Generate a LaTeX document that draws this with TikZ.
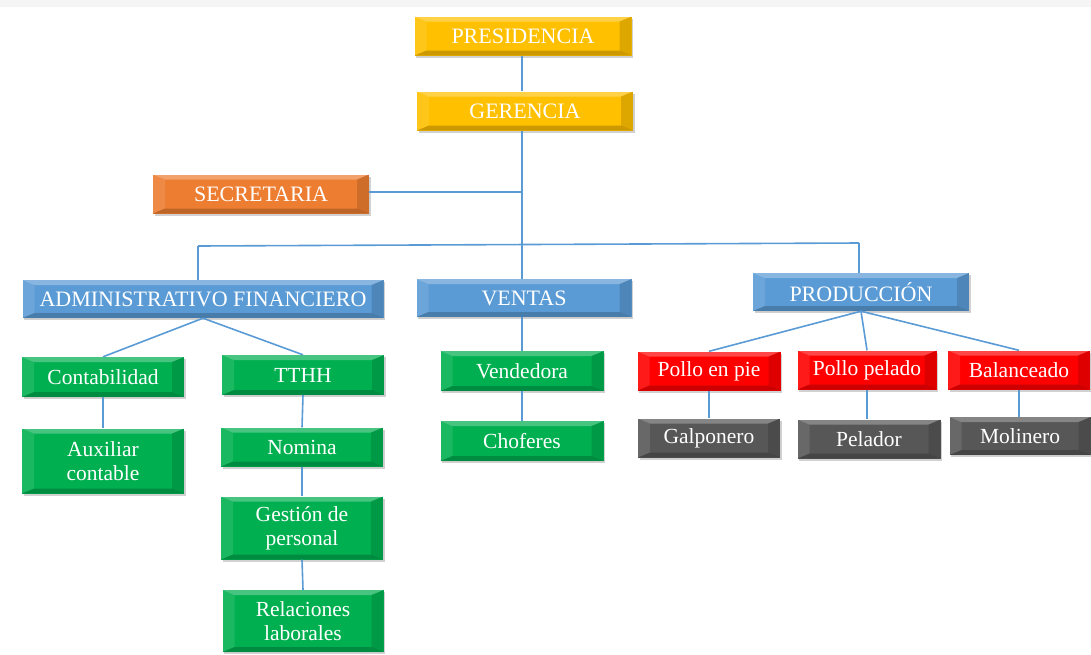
\documentclass[tikz,border=0pt]{standalone}
\usepackage{fontspec}
\setmainfont{Liberation Serif}
\usetikzlibrary{calc,shadows}
\definecolor{cgold}{HTML}{FFC000}
\definecolor{corange}{HTML}{ED7D31}
\definecolor{cblue}{HTML}{5B9BD5}
\definecolor{cgreen}{HTML}{00B050}
\definecolor{cred}{HTML}{FF0000}
\definecolor{cgray}{HTML}{575757}
\definecolor{cline}{HTML}{5B9BD5}
\tikzset{
  bev/.style={rectangle, fill=#1, text=white, inner sep=0pt, align=center,
    font=\fontsize{21.5}{24}\selectfont,
    drop shadow={shadow xshift=1.5pt, shadow yshift=-2pt, opacity=.3, fill=black!60},
    path picture={
      \path (path picture bounding box.north west) coordinate (pNW)
            (path picture bounding box.south east) coordinate (pSE);
      \coordinate (pNE) at (pNW -| pSE);
      \coordinate (pSW) at (pNW |- pSE);
      \fill[white,opacity=.28] (pNW) -- (pNE) -- ($(pNE)+(-12pt,-5pt)$) -- ($(pNW)+(12pt,-5pt)$) -- cycle;
      \fill[white,opacity=.10] (pNW) -- ($(pNW)+(12pt,-5pt)$) -- ($(pSW)+(12pt,5pt)$) -- (pSW) -- cycle;
      \fill[black,opacity=.13] (pNE) -- (pSE) -- ($(pSE)+(-12pt,5pt)$) -- ($(pNE)+(-12pt,-5pt)$) -- cycle;
      \fill[black,opacity=.20] (pSW) -- ($(pSW)+(12pt,5pt)$) -- ($(pSE)+(-12pt,5pt)$) -- (pSE) -- cycle;
    }},
  big/.style={font=\fontsize{22}{24}\selectfont},
  conn/.style={draw=cline, line width=1.6pt}
}
\begin{document}
\begin{tikzpicture}[x=1pt,y=-1pt]
\useasboundingbox (0,0) rectangle (1091,654);
\fill[black!4] (0,0) rectangle (1091,7);
% top
\node[bev=cgold, big, minimum width=217, minimum height=39] (pres) at (523,36) {PRESIDENCIA};
\node[bev=cgold, big, minimum width=216, minimum height=39] (ger) at (525,111) {GERENCIA};
\node[bev=corange, big, minimum width=216, minimum height=39] (sec) at (261,194) {SECRETARIA};
% level 2
\node[bev=cblue, big, minimum width=361, minimum height=38] (adm) at (203,299) {ADMINISTRATIVO FINANCIERO};
\node[bev=cblue, big, minimum width=215, minimum height=38] (ven) at (524,298) {VENTAS};
\node[bev=cblue, big, minimum width=216, minimum height=38] (prod) at (861,292) {PRODUCCIÓN};
% admin children
\node[bev=cgreen, minimum width=162, minimum height=40] (cont) at (103,377) {Contabilidad};
\node[bev=cgreen, minimum width=162, minimum height=40] (tthh) at (303,375) {TTHH};
\node[bev=cgreen, minimum width=162, minimum height=65] (aux) at (103,461) {Auxiliar\\contable};
\node[bev=cgreen, minimum width=162, minimum height=39] (nom) at (302,447) {Nomina};
\node[bev=cgreen, minimum width=162, minimum height=63] (ges) at (302,528) {Gestión de\\personal};
\node[bev=cgreen, minimum width=161, minimum height=62] (rel) at (303,621) {Relaciones\\laborales};
% ventas children
\node[bev=cgreen, minimum width=163, minimum height=40] (vend) at (522,371) {Vendedora};
\node[bev=cgreen, minimum width=163, minimum height=40] (chof) at (522,441) {Choferes};
% produccion children
\node[bev=cred, minimum width=143, minimum height=39] (pie) at (709,371) {Pollo en pie};
\node[bev=cred, minimum width=139, minimum height=39] (pel) at (867,370) {Pollo pelado};
\node[bev=cred, minimum width=142, minimum height=39] (bal) at (1019,370) {Balanceado};
\node[bev=cgray, minimum width=142, minimum height=39] (galp) at (709,438) {Galponero};
\node[bev=cgray, minimum width=143, minimum height=39] (pdor) at (869,439) {Pelador};
\node[bev=cgray, minimum width=141, minimum height=38] (mol) at (1020,436) {Molinero};
% connectors
\coordinate (busL) at (198,246);
\coordinate (busR) at (859,243);
\coordinate (secJ) at (523,192);
\coordinate (gerB) at (522,131);
\draw[conn] (pres.south -| gerB) -- (gerB |- ger.north);
\draw[conn] (gerB) -- (gerB |- ven.north);
\draw[conn] (sec.east |- secJ) -- (secJ);
\draw[conn] (busL) -- (busR);
\draw[conn] (busL) -- (busL |- adm.north);
\draw[conn] (busR) -- (busR |- prod.north);
\draw[conn] (adm.south) -- (cont.north);
\draw[conn] (adm.south) -- (tthh.north);
\draw[conn] (cont.south) -- (aux.north);
\draw[conn] (tthh.south) -- (nom.north);
\draw[conn] (nom.south) -- (ges.north);
\draw[conn] (ges.south) -- (rel.north);
\draw[conn] (ven.south -| gerB) -- (gerB |- vend.north);
\draw[conn] (vend.south) -- (chof.north);
\draw[conn] (prod.south) -- (pie.north);
\draw[conn] (prod.south) -- (pel.north);
\draw[conn] (prod.south) -- (bal.north);
\draw[conn] (pie.south) -- (galp.north);
\draw[conn] (pel.south) -- (pel.south |- pdor.north);
\draw[conn] (bal.south) -- (bal.south |- mol.north);
\end{tikzpicture}
\end{document}
